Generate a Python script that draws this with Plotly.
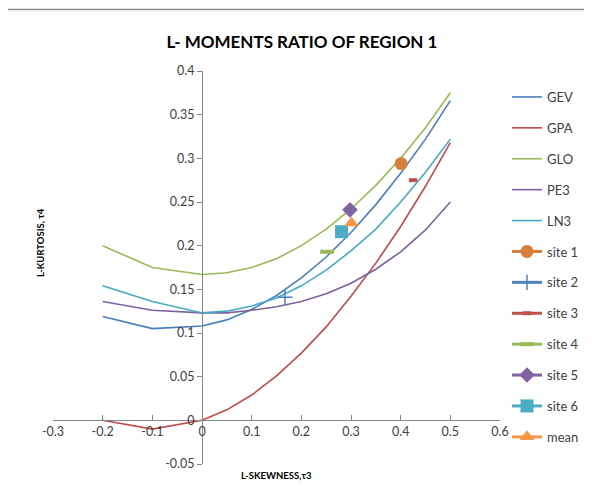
import plotly.graph_objects as go

# ---- data ----
tau3 = [-0.2, -0.1, 0.0, 0.05, 0.1, 0.15, 0.2, 0.25, 0.3, 0.35, 0.4, 0.45, 0.5]
gev = [0.119, 0.105, 0.108, 0.115, 0.127, 0.143, 0.163, 0.187, 0.215, 0.247, 0.283, 0.322, 0.366]
gpa = [0.0, -0.010, 0.0, 0.012, 0.029, 0.051, 0.077, 0.107, 0.142, 0.180, 0.222, 0.268, 0.318]
glo = [0.200, 0.175, 0.167, 0.169, 0.175, 0.185, 0.200, 0.219, 0.242, 0.269, 0.300, 0.335, 0.375]
pe3 = [0.136, 0.126, 0.123, 0.123, 0.126, 0.130, 0.136, 0.145, 0.157, 0.173, 0.193, 0.218, 0.250]
ln3 = [0.154, 0.136, 0.123, 0.125, 0.131, 0.140, 0.154, 0.172, 0.194, 0.219, 0.250, 0.284, 0.322]

site_names = ["site 1", "site 2", "site 3", "site 4", "site 5", "site 6", "mean"]
site_t3 = [0.401, 0.167, 0.425, 0.252, 0.298, 0.281, 0.301]
site_t4 = [0.294, 0.141, 0.275, 0.193, 0.241, 0.216, 0.226]

x_ticks = [-0.3, -0.2, -0.1, 0, 0.1, 0.2, 0.3, 0.4, 0.5, 0.6]
x_tick_text = ["-0.3", "-0.2", "-0.1", "0", "0.1", "0.2", "0.3", "0.4", "0.5", "0.6"]
y_ticks = [-0.05, 0, 0.05, 0.1, 0.15, 0.2, 0.25, 0.3, 0.35, 0.4]
y_tick_text = ["-0.05", "0", "0.05", "0.1", "0.15", "0.2", "0.25", "0.3", "0.35", "0.4"]

# ---- styling ----
FONT = "Lato, Open Sans, sans-serif"
curve_names = ["GEV", "GPA", "GLO", "PE3", "LN3"]
curve_vals = [gev, gpa, glo, pe3, ln3]
curve_colors = ["#4A7EBB", "#BE4B48", "#98B954", "#7D60A0", "#46AAC5"]

site_colors = ["#D2803A", "#4F81BD", "#C0504D", "#9BBB59", "#8064A2", "#4BACC6", "#F79646"]
site_symbols = ["circle", "cross-thin", "line-ew", "line-ew", "diamond", "square", "triangle-up"]
site_sizes = [13, 11, 6, 10, 12, 13, 13]

fig = go.Figure()
for name, vals, col in zip(curve_names, curve_vals, curve_colors):
    fig.add_trace(go.Scatter(x=tau3, y=vals, mode="lines", name=name,
                             legendgroup=name,
                             line=dict(color=col, width=1.6)))

for i, name in enumerate(site_names):
    sym = site_symbols[i]
    if sym in ("line-ew", "cross-thin"):
        mk = dict(symbol=sym, size=site_sizes[i], color=site_colors[i],
                  line=dict(color=site_colors[i], width=4 if sym == "line-ew" else 1.5))
    else:
        mk = dict(symbol=sym, size=site_sizes[i], color=site_colors[i],
                  line=dict(width=0))
    fig.add_trace(go.Scatter(x=[site_t3[i]], y=[site_t4[i]], mode="lines+markers",
                             name=name, legendgroup=name,
                             line=dict(color=site_colors[i], width=3),
                             marker=mk))

OFF = 8  # page body margin
W, H = 592 - OFF, 498 - OFF
L, T = 53 - OFF, 71 - OFF
pw, ph = 447, 393
R = W - L - pw
B = H - T - ph

def px_x(p):
    return (p - OFF - L) / pw

def px_y(p):
    return (H - B - (p - OFF)) / ph

fig.update_layout(
    width=W, height=H,
    margin=dict(l=L, r=R, t=T, b=B, pad=0, autoexpand=False),
    paper_bgcolor="white", plot_bgcolor="white",
    font=dict(family=FONT, size=12.5, color="#404040"),
    title=dict(text="<b>L- MOMENTS RATIO OF REGION 1</b>", x=(302 - OFF) / W, xanchor="center",
               y=1 - (42 - OFF) / H, yanchor="middle", yref="container",
               font=dict(family=FONT, size=17, color="#000000")),
    showlegend=True,
    legend=dict(x=px_x(507), xanchor="left", y=px_y(82), yanchor="top",
                tracegroupgap=11, font=dict(family=FONT, size=13, color="#404040"),
                bgcolor="rgba(0,0,0,0)", itemwidth=30),
    xaxis=dict(range=[-0.3, 0.6], tickvals=x_ticks, ticktext=x_tick_text,
               showgrid=False, zeroline=False, showline=True, linecolor="#868686",
               linewidth=1, ticks="inside", ticklen=5, tickcolor="#868686",
               anchor="free", position=0.05 / 0.45,
               tickfont=dict(family=FONT, size=12.5, color="#404040")),
    yaxis=dict(range=[-0.05, 0.4], tickvals=y_ticks, ticktext=y_tick_text,
               showgrid=False, zeroline=False, showline=True, linecolor="#868686",
               linewidth=1, ticks="outside", ticklen=5, tickcolor="#868686",
               anchor="free", position=0.3 / 0.9,
               tickfont=dict(family=FONT, size=12.5, color="#404040")),
    annotations=[
        dict(text="<b>L-SKEWNESS,τ3</b>", x=px_x(276), y=px_y(475), xref="paper", yref="paper",
             showarrow=False, xanchor="center", yanchor="middle",
             font=dict(family=FONT, size=9.5, color="#000000")),
        dict(text="<b>L-KURTOSIS, τ4</b>", x=px_x(40), y=px_y(243), xref="paper", yref="paper",
             showarrow=False, xanchor="center", yanchor="middle", textangle=-90,
             font=dict(family=FONT, size=9.5, color="#000000")),
    ],
    shapes=[
        dict(type="rect", xref="paper", yref="paper",
             x0=px_x(6.5), x1=px_x(640), y0=px_y(540), y1=px_y(9.5),
             line=dict(color="#8C8C8C", width=1.5), fillcolor="rgba(0,0,0,0)", layer="below"),
    ],
)

fig.write_html("out.html")
